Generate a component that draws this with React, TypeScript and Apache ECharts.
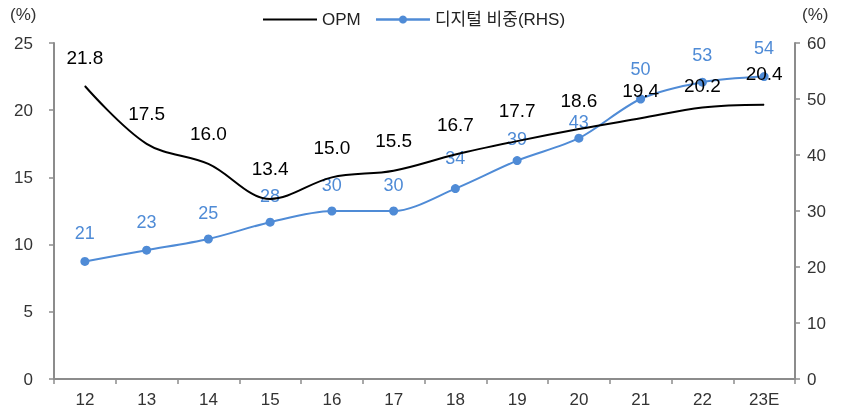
import React, { useEffect, useRef } from "react";
import * as echarts from "echarts";

const categories = ["12", "13", "14", "15", "16", "17", "18", "19", "20", "21", "22", "23E"];
const opm = [21.8, 17.5, 16.0, 13.4, 15.0, 15.5, 16.7, 17.7, 18.6, 19.4, 20.2, 20.4];
const digital = [21, 23, 25, 28, 30, 30, 34, 39, 43, 50, 53, 54];

// label spacing (styling only)
const opmLabelGap = [19, 21, 21, 21, 20, 20, 20, 21, 19, 18, 12, 22];
const digitalLabelGap = [15, 15, 13, 13, 13, 13, 17, 8, 3, 17, 14, 15];

const FONT = "'Liberation Sans', Arial, 'Noto Sans CJK KR', sans-serif";
const BLUE = "#4f8bd6";
const AXIS = "#8c8c8c";

export default function App() {
  const ref = useRef<HTMLDivElement>(null);
  useEffect(() => {
    if (!ref.current) return;
    const chart = echarts.init(ref.current, null, { renderer: "svg" });
    chart.setOption({
      animation: false,
      textStyle: { fontFamily: FONT },
      legend: {
        top: 6,
        left: 258,
        itemWidth: 54,
        itemHeight: 10,
        itemGap: 14,
        textStyle: { fontSize: 17, color: "#222", fontFamily: FONT },
        data: [
          { name: "OPM", icon: "path://M0,4 L54,4 L54,6 L0,6 Z" },
          { name: "디지털 비중(RHS)", lineStyle: { width: 2.5, color: BLUE } },
        ],
      },
      graphic: [
        { type: "text", left: 10, top: 6, style: { text: "(%)", fontSize: 17, fill: "#333", fontFamily: FONT } },
        { type: "text", left: 802, top: 6, style: { text: "(%)", fontSize: 17, fill: "#333", fontFamily: FONT } },
      ],
      grid: { left: 54, right: 46, top: 43, bottom: 35 },
      xAxis: {
        type: "category",
        data: categories,
        boundaryGap: true,
        axisLine: { lineStyle: { color: AXIS, width: 2 } },
        axisTick: { show: true, length: 5, lineStyle: { color: AXIS, width: 1.5 } },
        axisLabel: { fontSize: 17, color: "#333", margin: 12, fontFamily: FONT },
      },
      yAxis: [
        {
          type: "value",
          min: 0,
          max: 25,
          interval: 5,
          splitLine: { show: false },
          axisLine: { show: true, lineStyle: { color: AXIS, width: 2 } },
          axisTick: { show: true, length: 5, lineStyle: { color: AXIS, width: 1.5 } },
          axisLabel: { fontSize: 17, color: "#333", margin: 21, fontFamily: FONT },
        },
        {
          type: "value",
          min: 0,
          max: 60,
          interval: 10,
          position: "right",
          splitLine: { show: false },
          axisLine: { show: true, lineStyle: { color: AXIS, width: 2 } },
          axisTick: { show: true, length: 5, lineStyle: { color: AXIS, width: 1.5 } },
          axisLabel: { fontSize: 17, color: "#333", margin: 12, fontFamily: FONT },
        },
      ],
      series: [
        {
          name: "디지털 비중(RHS)",
          type: "line",
          data: digital.map((v, i) => ({ value: v, label: { distance: digitalLabelGap[i] } })),
          yAxisIndex: 1,
          smooth: 0.3,
          symbol: "circle",
          symbolSize: 9,
          lineStyle: { color: BLUE, width: 2 },
          itemStyle: { color: BLUE },
          label: {
            show: true,
            position: "top",
            fontSize: 18,
            color: BLUE,
            fontFamily: FONT,
          },
          z: 2,
        },
        {
          name: "OPM",
          type: "line",
          data: opm.map((v, i) => ({ value: v, label: { distance: opmLabelGap[i] } })),
          yAxisIndex: 0,
          smooth: 0.35,
          symbol: "circle",
          symbolSize: 0.5,
          showSymbol: true,
          lineStyle: { color: "#000", width: 2 },
          itemStyle: { color: "#000" },
          label: {
            show: true,
            position: "top",
            fontSize: 19,
            color: "#000",
            fontFamily: FONT,
            formatter: (p: any) => Number(p.value).toFixed(1),
          },
          z: 3,
        },
      ],
    });
    return () => chart.dispose();
  }, []);
  return (
    <div
      ref={ref}
      style={{ position: "fixed", left: 0, top: 0, width: 841, height: 414 }}
    />
  );
}
